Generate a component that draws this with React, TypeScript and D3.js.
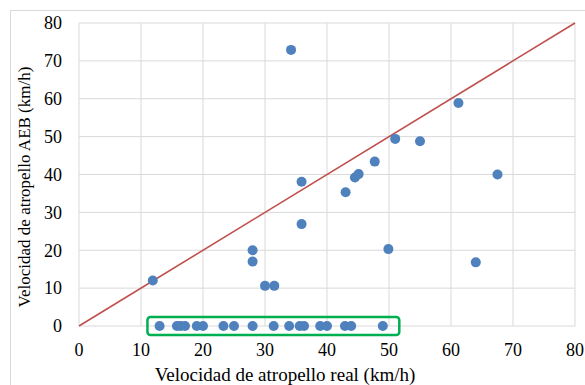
import React from "react";
import * as d3 from "d3";

const realSpeed = [11.9, 34.2, 28.0, 28.0, 30.0, 31.5, 35.9, 35.9, 43.0, 44.5, 45.1, 47.7, 51.0, 55.0, 61.2, 67.5, 49.9, 64.0,
  13.0, 15.8, 16.4, 17.1, 19.0, 20.0, 23.3, 25.0, 28.0, 31.4, 33.9, 35.6, 36.3, 38.9, 40.0, 42.9, 43.9, 49.0];
const aebSpeed = [12.0, 72.9, 20.0, 17.0, 10.6, 10.6, 26.9, 38.1, 35.3, 39.2, 40.1, 43.4, 49.4, 48.8, 58.9, 40.0, 20.3, 16.8,
  0, 0, 0, 0, 0, 0, 0, 0, 0, 0, 0, 0, 0, 0, 0, 0, 0, 0];
const ticks = [0, 10, 20, 30, 40, 50, 60, 70, 80];
const highlightRange = [11.2, 51.5];

export default function App() {
  const W = 585, H = 385;
  const x = d3.scaleLinear().domain([0, 80]).range([79, 575]);
  const y = d3.scaleLinear().domain([0, 80]).range([326, 23]);
  const font = "'Liberation Serif', 'Times New Roman', serif";
  return (
    <svg width={W} height={H} style={{ position: "absolute", left: 0, top: 0 }}>
      <rect x={0} y={0} width={W} height={H} fill="#fff" />
      <rect x={10.5} y={10.5} width={W} height={H} fill="none" stroke="#d9d9d9" />
      {ticks.map(t => (
        <line key={"gx" + t} x1={x(t)} x2={x(t)} y1={y(0)} y2={y(80)} stroke="#d9d9d9" strokeWidth={1} />
      ))}
      {ticks.map(t => (
        <line key={"gy" + t} x1={x(0)} x2={x(80)} y1={y(t)} y2={y(t)} stroke="#d9d9d9" strokeWidth={1} />
      ))}
      <line x1={x(0)} x2={x(80)} y1={y(0)} y2={y(80)} stroke="#c0504d" strokeWidth={1.6} />
      {realSpeed.map((v, i) => (
        <circle key={i} cx={x(v)} cy={y(aebSpeed[i])} r={5} fill="#4f81bd" />
      ))}
      <rect x={x(highlightRange[0]) - 1} y={y(0) - 9} width={x(highlightRange[1]) - x(highlightRange[0]) + 2} height={18}
        rx={3} fill="none" stroke="#00b050" strokeWidth={2.5} />
      {ticks.map(t => (
        <text key={"ty" + t} x={62} y={y(t)} dy="0.35em" textAnchor="end" fontFamily={font} fontSize={18} fill="#000">{t}</text>
      ))}
      {ticks.map(t => (
        <text key={"tx" + t} x={x(t)} y={355.5} textAnchor="middle" fontFamily={font} fontSize={18} fill="#000">{t}</text>
      ))}
      <text x={285} y={381} textAnchor="middle" fontFamily={font} fontSize={19} fill="#000">Velocidad de atropello real (km/h)</text>
      <text transform={`translate(30, 187) rotate(-90)`} textAnchor="middle" fontFamily={font} fontSize={17} fill="#000">Velocidad de atropello AEB (km/h)</text>
    </svg>
  );
}
